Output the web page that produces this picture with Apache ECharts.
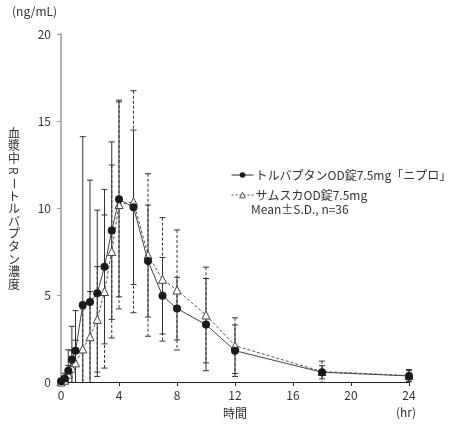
<!DOCTYPE html>
<html>
<head>
<meta charset="utf-8">
<script src="https://cdn.jsdelivr.net/npm/echarts@6/dist/echarts.min.js"></script>
<style>
  html, body { margin: 0; padding: 0; background: #fff; }
  #chart { width: 450px; height: 425px; }
</style>
</head>
<body>
<div id="chart"></div>
<script>
// sampling times (hr)
const times = [0, 0.25, 0.5, 0.75, 1, 1.5, 2, 2.5, 3, 3.5, 4, 5, 6, 7, 8, 10, 12, 18, 24];

// トルバプタンOD錠7.5mg「ニプロ」 mean / SD (ng/mL)
const niproMean = [0.05, 0.2, 0.65, 1.3, 1.8, 4.43, 4.6, 5.1, 6.63, 8.7, 10.5, 10.04, 6.95, 4.96, 4.22, 3.3, 1.8, 0.56, 0.35];
const niproSD = [0.1, 0.3, 1.2, 1.9, 2.3, 9.67, 7.0, 4.78, 4.44, 5.1, 5.6, 4.44, 3.22, 2.2, 1.8, 2.65, 1.48, 0.38, 0.3];

// サムスカOD錠7.5mg mean / SD (ng/mL)
const samscaMean = [0, 0.1, 0.45, 0.8, 1.1, 1.9, 2.6, 3.6, 5.2, 7.5, 10.2, 10.36, 7.3, 5.9, 5.29, 3.85, 2.09, 0.6, 0.37];
const samscaSD = [0, 0.15, 0.5, 1.0, 1.3, 2.3, 2.6, 3.03, 4.4, 4.97, 6.0, 6.38, 4.67, 3.55, 3.45, 2.75, 1.6, 0.6, 0.35];

const seriesNames = ["トルバプタンOD錠7.5mg「ニプロ」", "サムスカOD錠7.5mg"];
const yTitle = "血漿中Rートルバプタン濃度";

const FONT = "'Noto Sans CJK JP', 'Noto Sans', sans-serif";
const chart = echarts.init(document.getElementById("chart"));

function errData(mean, sd) {
  return times.map((t, i) => [t, Math.max(0, mean[i] - sd[i]), mean[i] + sd[i]]);
}

function errBars(color, dash) {
  return function (params, api) {
    const x = api.value(0);
    const lo = api.value(1);
    const hi = api.value(2);
    const top = api.coord([x, hi]);
    const bot = api.coord([x, lo]);
    const style = { stroke: color, lineWidth: 1, lineDash: dash };
    const children = [
      { type: "line", shape: { x1: top[0], y1: top[1], x2: bot[0], y2: bot[1] }, style: style },
      { type: "line", shape: { x1: top[0] - 3, y1: top[1], x2: top[0] + 3, y2: top[1] }, style: { stroke: color, lineWidth: 1 } },
    ];
    if (lo > 0) {
      children.push({ type: "line", shape: { x1: bot[0] - 3, y1: bot[1], x2: bot[0] + 3, y2: bot[1] }, style: { stroke: color, lineWidth: 1 } });
    }
    return { type: "group", children: children };
  };
}

// vertical (tategaki) y-axis title, latin chars turned sideways
const titleChars = yTitle.split("").map((ch, i) => {
  const sideways = /[A-Za-z\-ー]/.test(ch);
  return {
    type: "text",
    x: 14,
    y: 133 + i * 12.6,
    rotation: sideways ? -Math.PI / 2 : 0,
    style: { text: ch, fontSize: 12, fontFamily: FONT, fill: "#333", align: "center", verticalAlign: "middle" },
  };
});

const options = {
  animation: false,
  grid: { left: 61, right: 41, top: 34, bottom: 43 },
  legend: {
    data: [
      {
        name: seriesNames[0],
        itemStyle: { color: "#1a1a1a", borderWidth: 0 },
        lineStyle: { color: "#333", width: 1, type: "solid" },
      },
      {
        name: seriesNames[1],
        itemStyle: { color: "#fff", borderColor: "#555", borderWidth: 1 },
        lineStyle: { color: "#555", width: 1, type: [2, 2] },
      },
    ],
    orient: "vertical",
    left: 226,
    top: 164,
    itemWidth: 22,
    itemHeight: 7,
    itemGap: 8,
    textStyle: { fontSize: 12, fontFamily: FONT, color: "#333", padding: [0, 0, 0, -3] },
  },
  xAxis: {
    type: "value",
    min: 0,
    max: 24,
    interval: 4,
    name: "時間",
    nameLocation: "middle",
    nameGap: 25,
    nameTextStyle: { fontSize: 12, fontFamily: FONT, color: "#333" },
    splitLine: { show: false },
    axisLine: { lineStyle: { color: "#222", width: 1 } },
    axisTick: { length: 4, lineStyle: { color: "#222" } },
    axisLabel: { fontSize: 12, fontFamily: FONT, color: "#333", margin: 7 },
  },
  yAxis: {
    type: "value",
    min: 0,
    max: 20,
    interval: 5,
    splitLine: { show: false },
    axisLine: { show: true, lineStyle: { color: "#999", width: 1.5 } },
    axisTick: { show: true, length: 4, lineStyle: { color: "#999" } },
    axisLabel: { fontSize: 12, fontFamily: FONT, color: "#333", margin: 10 },
  },
  graphic: [
    { type: "text", left: 12, top: 5, style: { text: "(ng/mL)", fontSize: 12, fontFamily: FONT, fill: "#333" } },
    { type: "text", left: 396, top: 406, style: { text: "(hr)", fontSize: 12, fontFamily: FONT, fill: "#333" } },
    { type: "text", left: 251, top: 203, style: { text: "Mean±S.D., n=36", fontSize: 12, fontFamily: FONT, fill: "#333" } },
    { type: "group", children: titleChars },
  ],
  series: [
    {
      type: "custom",
      name: "sdNipro",
      renderItem: errBars("#333", null),
      encode: { x: 0, y: [1, 2] },
      data: errData(niproMean, niproSD),
      z: 1,
      silent: true,
    },
    {
      type: "custom",
      name: "sdSamsca",
      renderItem: errBars("#333", [3, 2]),
      encode: { x: 0, y: [1, 2] },
      data: errData(samscaMean, samscaSD),
      z: 1,
      silent: true,
    },
    {
      name: seriesNames[1],
      type: "line",
      data: times.map((t, i) => [t, samscaMean[i]]),
      symbol: "triangle",
      symbolSize: 8,
      itemStyle: { color: "#fff", borderColor: "#444", borderWidth: 1 },
      lineStyle: { color: "#555", width: 1, type: [3, 2] },
      z: 3,
    },
    {
      name: seriesNames[0],
      type: "line",
      data: times.map((t, i) => [t, niproMean[i]]),
      symbol: "circle",
      symbolSize: 8,
      itemStyle: { color: "#1a1a1a" },
      lineStyle: { color: "#444", width: 1 },
      z: 4,
    },
  ],
};

chart.setOption(options);
</script>
</body>
</html>
